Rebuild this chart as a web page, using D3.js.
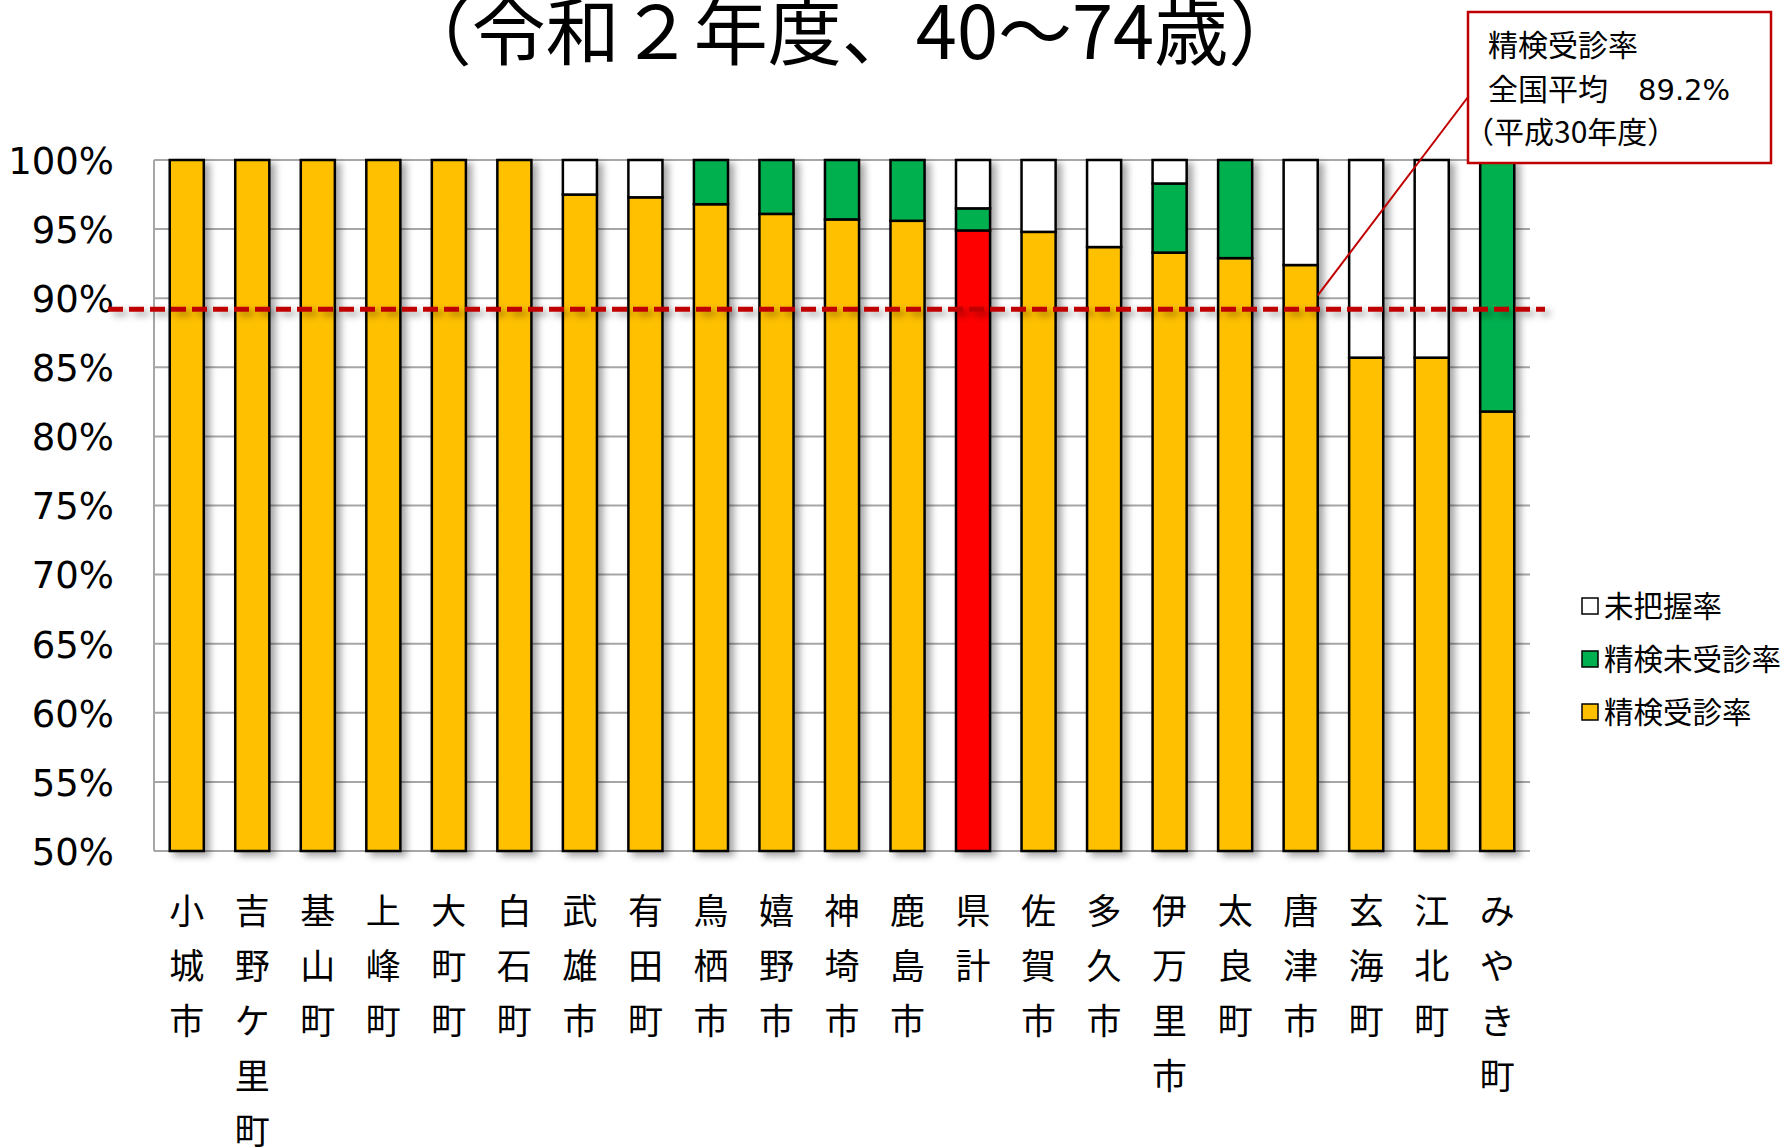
<!DOCTYPE html>
<html>
<head>
<meta charset="utf-8">
<script src="https://cdn.jsdelivr.net/npm/d3@7"></script>
<style>
body { margin: 0; background: #fff; }
svg { display: block; }
text { font-family: "Noto Sans CJK JP", sans-serif; fill: #000; }
.num { font-family: "DejaVu Sans", sans-serif; }
</style>
</head>
<body>
<script>
const W = 1784, H = 1148;

// data
const cities = ['小城市','吉野ケ里町','基山町','上峰町','大町町','白石町','武雄市','有田町','鳥栖市','嬉野市','神埼市','鹿島市','県計','佐賀市','多久市','伊万里市','太良町','唐津市','玄海町','江北町','みやき町'];
const jushin = [100,100,100,100,100,100,97.5,97.3,96.8,96.1,95.7,95.6,94.9,94.8,93.7,93.3,92.9,92.4,85.7,85.7,81.8];
const mijushin = [0,0,0,0,0,0,0,0,3.2,3.9,4.3,4.4,1.6,0,0,5.0,7.1,0,0,0,18.2];
const mihaaku = [0,0,0,0,0,0,2.5,2.7,0,0,0,0,3.5,5.2,6.3,1.7,0,7.6,14.3,14.3,0];
const yTicks = [50,55,60,65,70,75,80,85,90,95,100];
const zenkoku = 89.2;
const seriesNames = ['精検受診率','精検未受診率','未把握率'];

const rows = cities.map((c, i) => ({city: c, jushin: jushin[i], mijushin: mijushin[i], mihaaku: mihaaku[i]}));
const keys = ['jushin','mijushin','mihaaku'];
const colors = {jushin: '#FFC000', mijushin: '#00B050', mihaaku: '#FFFFFF'};

const svg = d3.select('body').append('svg').attr('width', W).attr('height', H);

const defs = svg.append('defs');
const f = defs.append('filter').attr('id','shadow').attr('filterUnits','userSpaceOnUse')
  .attr('x', 0).attr('y', 0).attr('width', W).attr('height', H);
f.append('feDropShadow').attr('dx', 5).attr('dy', 4).attr('stdDeviation', 3.5).attr('flood-color', '#000').attr('flood-opacity', 0.35);

const x = d3.scaleBand().domain(cities).range([154, 1530]).paddingInner(0.48).paddingOuter(0.24);
const y = d3.scaleLinear().domain([50, 100]).range([851, 160]);

// gridlines
svg.append('g').selectAll('line').data(yTicks).enter().append('line')
  .attr('x1', 154).attr('x2', 1530)
  .attr('y1', d => y(d)).attr('y2', d => y(d))
  .attr('stroke', '#a6a6a6').attr('stroke-width', 2);
svg.append('line').attr('x1', 154).attr('x2', 154).attr('y1', y(100)).attr('y2', y(50))
  .attr('stroke', '#a6a6a6').attr('stroke-width', 2);

// y axis labels
const yAxis = d3.axisLeft(y).tickValues(yTicks).tickSize(0).tickPadding(40).tickFormat(d => d + '%');
const ya = svg.append('g').attr('transform', 'translate(154,0)').call(yAxis);
ya.select('.domain').remove();
ya.selectAll('text').attr('class', 'num').style('font-size', '37px').attr('fill', '#000').attr('dy', '0.36em');

// bars
const stacked = d3.stack().keys(keys)(rows);
const gBars = svg.append('g').attr('filter', 'url(#shadow)');
stacked.forEach(layer => {
  gBars.selectAll(null).data(layer.filter(d => d[1] - d[0] > 0)).enter().append('rect')
    .attr('x', d => x(d.data.city))
    .attr('width', x.bandwidth())
    .attr('y', d => y(d[1]))
    .attr('height', d => y(d[0] < 50 ? 50 : d[0]) - y(d[1]))
    .attr('fill', d => (layer.key === 'jushin' && d.data.city === '県計') ? '#FF0000' : colors[layer.key])
    .attr('stroke', '#000').attr('stroke-width', 2.5);
});

// national average dashed line
const avg = svg.append('g').attr('filter', 'url(#shadow)');
avg.append('line').attr('x1', 108).attr('x2', 1545)
  .attr('y1', y(zenkoku)).attr('y2', y(zenkoku))
  .attr('stroke', '#C00000').attr('stroke-width', 5).attr('stroke-dasharray', '15,6');

// category labels (vertical)
const gx = svg.append('g');
cities.forEach(c => {
  const t = gx.append('text').attr('text-anchor', 'middle').style('font-size', '35px');
  Array.from(c).forEach((ch, j) => {
    t.append('tspan').attr('x', x(c) + x.bandwidth() / 2).attr('y', 924 + j * 55).text(ch);
  });
});

// title
svg.append('text').attr('x', 850).attr('y', 59).attr('text-anchor', 'middle')
  .style('font-size', '74px').text('（令和２年度、40～74歳）');

// callout
const kx = x('唐津市') + x.bandwidth();
svg.append('line').attr('x1', kx).attr('y1', y(90.2)).attr('x2', 1468).attr('y2', 97)
  .attr('stroke', '#C00000').attr('stroke-width', 2);
svg.append('rect').attr('x', 1468).attr('y', 12).attr('width', 303).attr('height', 151)
  .attr('fill', '#fff').attr('stroke', '#C00000').attr('stroke-width', 2.5);
const call = svg.append('text').style('font-size', '30px');
call.append('tspan').attr('x', 1488).attr('y', 56).text('精検受診率');
call.append('tspan').attr('x', 1488).attr('y', 100).text('全国平均　');
call.append('tspan').attr('class', 'num').style('font-size', '29px').text(zenkoku + '%');
call.append('tspan').attr('x', 1464).attr('y', 143).text('（平成30年度）');

// legend
const legendOrder = [2, 1, 0];
const lg = svg.append('g');
legendOrder.forEach((k, i) => {
  const yy = 606 + i * 53;
  lg.append('rect').attr('x', 1582).attr('y', yy - 8).attr('width', 16).attr('height', 16)
    .attr('fill', colors[keys[k]]).attr('stroke', '#000').attr('stroke-width', 1.5);
  lg.append('text').attr('x', 1604).attr('y', yy).attr('dy', '0.36em').style('font-size', '29.5px').text(seriesNames[k]);
});
</script>
</body>
</html>
